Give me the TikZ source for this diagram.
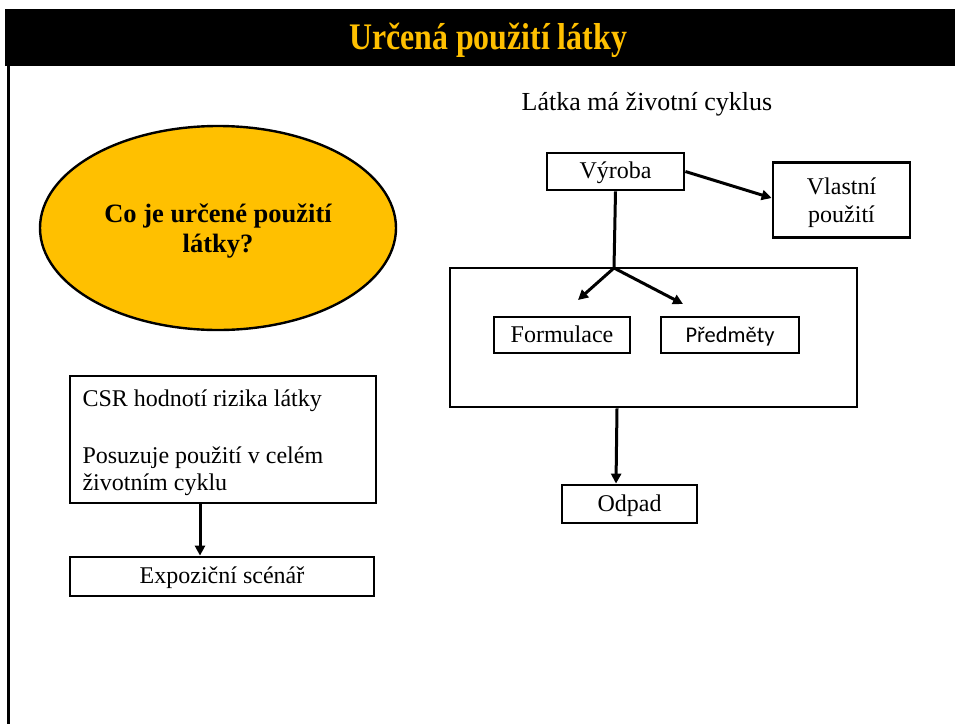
\documentclass[tikz,border=0pt]{standalone}
\usepackage{fontspec}
\setmainfont{Liberation Serif}
\newfontfamily\calfont{Carlito}
\usetikzlibrary{shapes.geometric,arrows.meta}
\definecolor{gold}{HTML}{FFC000}
\begin{document}
\begin{tikzpicture}[x=1pt,y=-1pt,
  bx/.style={draw,line width=2.8pt,inner sep=0pt},
  one/.style={text height=14pt,text depth=0pt},
  lbl/.style={font=\fontsize{24}{28}\selectfont},
  arr/.style={line width=3pt,-{Triangle[length=10pt,width=10pt]}},
  ln/.style={line width=3pt}]
\useasboundingbox (0,0) rectangle (955,724);
\fill[white] (0,0) rectangle (955,724);
% title bar
\node[fill=black,minimum width=951pt,minimum height=57pt,inner sep=0pt] (bar) at (480.5,37.5) {};
\node[text=gold,font=\bfseries\fontsize{37.5}{40}\selectfont,xscale=0.85] (title) at (488,40) {Určená použití látky};
\coordinate (lt) at (8,66);
\coordinate (lb) at (8,724);
\draw[line width=3pt] (lt) -- (lb);
% ellipse
\node[ellipse,draw,line width=2.4pt,fill=gold,minimum width=356pt,minimum height=204pt] (q) at (218,228) {};
\node[align=center,font=\bfseries\fontsize{26.5}{30}\selectfont] (qt) at (218,231) {Co je určené použití\\látky?};
% right side
\node[font=\fontsize{26}{30}\selectfont] (cyc) at (647,104) {Látka má životní cyklus};
\node[bx,lbl,one,minimum width=137pt,minimum height=37pt] (vyr) at (615.5,171.5) {Výroba};
\node[bx,minimum width=137pt,minimum height=75pt,inner sep=0pt] (vl) at (841.5,200) {};
\node[align=center,font=\fontsize{24}{28}\selectfont] (vlt) at (841.5,203) {Vlastní\\použití};
\node[bx,minimum width=407pt,minimum height=139pt] (big) at (653.5,337.5) {};
\node[bx,lbl,one,minimum width=136pt,minimum height=36pt] (form) at (562,335) {Formulace};
\node[bx,one,minimum width=138pt,minimum height=36pt,font=\calfont\fontsize{22.5}{26}\selectfont] (pred) at (730,335) {Předměty};
\node[bx,lbl,one,minimum width=135pt,minimum height=38pt] (odp) at (629.5,504) {Odpad};
\coordinate (br) at (614,268);
\coordinate (fa) at (578,300);
\coordinate (pa) at (683,304);
\draw[arr] (vyr.east) -- (vl.west |- 0,198);
\draw[ln] (vyr.south) -- (br);
\draw[arr] (br) -- (fa);
\draw[arr] (br) -- (pa);
\draw[arr] (big.south -| 617,0) -- (odp.north -| 616,0);
% left side
\node[bx,minimum width=306pt,minimum height=127pt] (csr) at (223,439.5) {};
\node[lbl,anchor=base west] (c1) at (79,406) {CSR hodnotí rizika látky};
\node[lbl,anchor=base west] (c2) at (79,463) {Posuzuje použití v celém};
\node[lbl,anchor=base west] (c3) at (79,490) {životním cyklu};
\node[bx,lbl,one,minimum width=304pt,minimum height=39pt] (exp) at (222,576.5) {Expoziční scénář};
\draw[arr] (csr.south -| 200,0) -- (exp.north -| 200,0);
\end{tikzpicture}
\end{document}
